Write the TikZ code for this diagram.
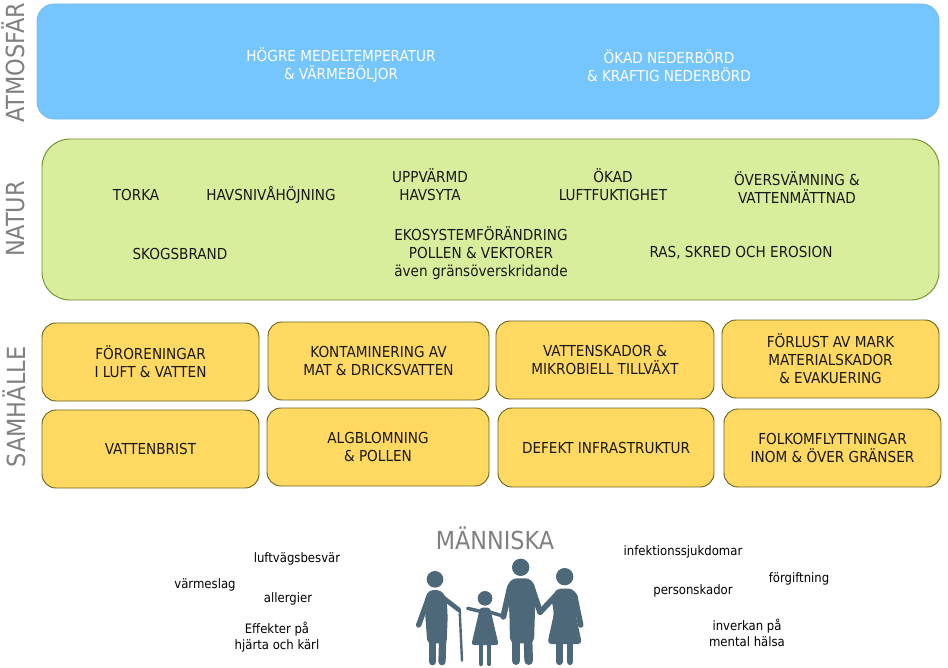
\documentclass[tikz,border=0pt]{standalone}
\usepackage{fontspec}
\setmainfont{DejaVu Sans Condensed}
\definecolor{skyb}{HTML}{75C5FF}
\definecolor{leaf}{HTML}{D9EE9D}
\definecolor{leafl}{HTML}{6F8F2A}
\definecolor{sun}{HTML}{FFD962}
\definecolor{sunl}{HTML}{6B6320}
\definecolor{grayt}{HTML}{808080}
\definecolor{fam}{HTML}{4D6878}
\tikzset{
 x=0.75pt,y=-0.75pt,
 boxbase/.style={align=center,inner sep=0pt,line width=0.7pt,font=\fontsize{11.35}{13.5}\selectfont,text=black!90},
 skybox/.style={boxbase,fill=skyb,draw=skyb!85!gray,rounded corners=13pt},
 leafbox/.style={boxbase,fill=leaf,draw=leafl,rounded corners=21pt},
 sunbox/.style={boxbase,fill=sun,draw=sunl,rounded corners=10.5pt},
 lab/.style={align=center,inner sep=0pt,font=\fontsize{11.35}{13.5}\selectfont,text=black!90},
 wlab/.style={lab,text=white},
 sm/.style={align=center,inner sep=0pt,font=\fontsize{9.75}{12.2}\selectfont,text=black},
 side/.style={inner sep=0pt,rotate=90,text=grayt,font=\fontsize{18.7}{22}\selectfont},
 limb/.style={draw=fam,line cap=round,line join=round},
}
\newcommand{\bx}[7]{\node[#1,minimum width={(#5-#3)*0.75pt},minimum height={(#6-#4)*0.75pt}] (#2) at ({(#3+#5)/2},{(#4+#6)/2}) {#7};}
\begin{document}
\begin{tikzpicture}
\useasboundingbox (0,0) rectangle (948,667);
\bx{skybox}{atm}{37}{4}{939}{119}{}
\bx{leafbox}{nat}{42}{139}{939}{300}{}
\bx{sunbox}{s1}{42}{323}{259}{401}{FÖRORENINGAR\\I LUFT \& VATTEN}
\bx{sunbox}{s2}{268}{322}{489}{400}{KONTAMINERING AV\\MAT \& DRICKSVATTEN}
\bx{sunbox}{s3}{496}{321}{714}{399}{VATTENSKADOR \&\\MIKROBIELL TILLVÄXT}
\bx{sunbox}{s4}{722}{320}{939}{398}{FÖRLUST AV MARK\\MATERIALSKADOR\\\& EVAKUERING}
\bx{sunbox}{s5}{42}{410}{259}{488}{VATTENBRIST}
\bx{sunbox}{s6}{267}{408}{489}{486}{ALGBLOMNING\\\& POLLEN}
\bx{sunbox}{s7}{498}{408}{714}{487}{DEFEKT INFRASTRUKTUR}
\bx{sunbox}{s8}{724}{409}{941}{487}{FOLKOMFLYTTNINGAR\\INOM \& ÖVER GRÄNSER}
\node[side] (tatm) at (13.5,63) {ATMOSFÄR};
\node[side] (tnat) at (15.5,219) {NATUR};
\node[side] (tsam) at (14.5,407) {SAMHÄLLE};
\node[wlab] (a1) at (341,65.5) {HÖGRE MEDELTEMPERATUR\\\& VÄRMEBÖLJOR};
\node[wlab] (a2) at (669,66) {ÖKAD NEDERBÖRD\\\& KRAFTIG NEDERBÖRD};
\node[lab] (n1) at (136,195) {TORKA};
\node[lab] (n2) at (271,195) {HAVSNIVÅHÖJNING};
\node[lab] (n3) at (430,184.5) {UPPVÄRMD\\HAVSYTA};
\node[lab] (n4) at (613,184.5) {ÖKAD\\LUFTFUKTIGHET};
\node[lab] (n5) at (797,187.5) {ÖVERSVÄMNING \&\\VATTENMÄTTNAD};
\node[lab] (n6) at (180,254) {SKOGSBRAND};
\node[lab] (n7) at (481,253) {EKOSYSTEMFÖRÄNDRING\\POLLEN \& VEKTORER\\även gränsöverskridande};
\node[lab] (n8) at (741,252.5) {RAS, SKRED OCH EROSION};
\node[inner sep=0pt,text=grayt,font=\fontsize{18.6}{22}\selectfont] (man) at (495,538) {MÄNNISKA};
\node[sm] (h1) at (297,559) {luftvägsbesvär};
\node[sm] (h2) at (205,584.5) {värmeslag};
\node[sm] (h3) at (288,599) {allergier};
\node[sm] (h4) at (277,637.5) {Effekter på\\hjärta och kärl};
\node[sm] (h5) at (683,552) {infektionssjukdomar};
\node[sm] (h6) at (799,579) {förgiftning};
\node[sm] (h7) at (693,591) {personskador};
\node[sm] (h8) at (747,633) {inverkan på\\mental hälsa};
\begin{scope}[shift={(400,510)},x=0.25pt,y=-0.25pt]
 % old man
 \fill[fam] (105,208) circle[radius=25];
 \fill[fam,rounded corners=3pt] (88,240) -- (122,240) -- (140,265) -- (143,320) -- (140,400) -- (82,400) -- (76,320) -- (74,265) -- cycle;
 \draw[limb,line width=4pt] (84,268) -- (56,345);
 \draw[limb,line width=3.5pt] (128,262) -- (176,299);
 \draw[limb,line width=1.8pt] (179,300) -- (186,452);
 \draw[limb,line width=5.5pt] (98,390) -- (98,455);
 \draw[limb,line width=5.5pt] (128,390) -- (126,455);
 % child
 \fill[fam] (255,265) circle[radius=22];
 \fill[fam,rounded corners=2pt] (240,293) -- (270,293) -- (296,405) -- (214,405) -- cycle;
 \draw[limb,line width=2.6pt] (245,305) -- (203,295);
 \draw[limb,line width=2.6pt] (265,305) -- (305,317);
 \draw[limb,line width=3.2pt] (243,405) -- (243,462);
 \draw[limb,line width=3.2pt] (268,405) -- (268,462);
 % man
 \fill[fam] (362,172) circle[radius=26];
 \fill[fam,rounded corners=4pt] (335,205) -- (392,205) -- (408,235) -- (405,300) -- (402,400) -- (330,400) -- (328,300) -- (318,235) -- cycle;
 \draw[limb,line width=4.5pt] (330,232) -- (310,320);
 \draw[limb,line width=4.5pt] (395,232) -- (420,305);
 \draw[limb,line width=6.5pt] (348,390) -- (348,452);
 \draw[limb,line width=6.5pt] (384,390) -- (386,452);
 % woman
 \fill[fam] (494,200) circle[radius=26];
 \fill[fam,rounded corners=3pt] (470,236) -- (518,236) -- (535,260) -- (526,310) -- (546,402) -- (442,402) -- (462,310) -- (454,265) -- cycle;
 \draw[limb,line width=4.2pt] (466,258) -- (420,307);
 \draw[limb,line width=4.2pt] (524,258) -- (542,345);
 \draw[limb,line width=5.2pt] (478,400) -- (478,455);
 \draw[limb,line width=5.2pt] (510,400) -- (510,455);
\end{scope}
\end{tikzpicture}
\end{document}
